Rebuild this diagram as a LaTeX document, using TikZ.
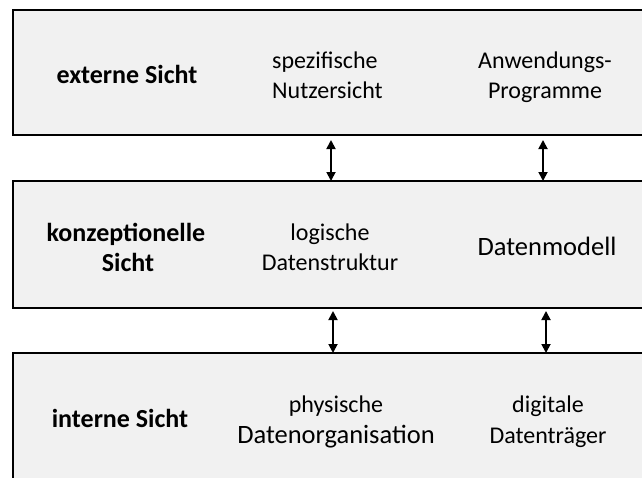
\documentclass[tikz,border=0pt]{standalone}
\usepackage{fontspec}
\setmainfont{Carlito}
\usetikzlibrary{arrows.meta}
\definecolor{layerfill}{HTML}{F1F1F1}
\begin{document}
\begin{tikzpicture}[x=1pt,y=-1pt,
  layer/.style={draw=black, line width=1.8pt, fill=layerfill, rectangle,
    anchor=north west, minimum width=660pt, inner sep=0pt, outer sep=0pt},
  title/.style={font=\fontsize{26}{31}\selectfont\bfseries, anchor=base, inner sep=0pt},
  label/.style={font=\fontsize{24}{29}\selectfont, anchor=base, inner sep=0pt},
  biglabel/.style={font=\fontsize{26.5}{31}\selectfont, anchor=base, inner sep=0pt},
  link/.style={line width=1.8pt, {Triangle[length=9pt,width=9pt]}-{Triangle[length=9pt,width=9pt]}}]
\useasboundingbox (0,0) rectangle (642,477);
\clip (0,0) rectangle (642,477);

% the three layers
\node[layer, minimum height=125pt] (ext) at (13,10) {};
\node[layer, minimum height=127pt] (kon) at (13,181) {};
\node[layer, minimum height=160pt] (int) at (13,353) {};

% external view
\node[title] (extT) at (127,83) {externe Sicht};
\node[label, anchor=base west] (extA1) at (272,68) {spezifische};
\node[label, anchor=base west] (extA2) at (272,98) {Nutzersicht};
\node[label] (extB1) at (545,68) {Anwendungs-};
\node[label] (extB2) at (545,98) {Programme};

% conceptual view
\node[title] (konT1) at (126,241) {konzeptionelle};
\node[title] (konT2) at (128,271) {Sicht};
\node[label] (konA1) at (330,240) {logische};
\node[label] (konA2) at (330,270) {Datenstruktur};
\node[biglabel] (konB) at (547,255) {Datenmodell};

% internal view
\node[title] (intT) at (120,427) {interne Sicht};
\node[label] (intA1) at (336,412) {physische};
\node[biglabel] (intA2) at (336,443) {Datenorganisation};
\node[label] (intB1) at (548,412) {digitale};
\node[label] (intB2) at (548,443) {Datenträger};

% connector end points
\coordinate (u1a) at (331,140);
\coordinate (u1b) at (331,181);
\coordinate (u2a) at (543,140);
\coordinate (u2b) at (543,181);
\coordinate (l1a) at (333,311);
\coordinate (l1b) at (333,353);
\coordinate (l2a) at (546,311);
\coordinate (l2b) at (546,353);

\draw[link] (u1a) -- (u1b);
\draw[link] (u2a) -- (u2b);
\draw[link] (l1a) -- (l1b);
\draw[link] (l2a) -- (l2b);
\end{tikzpicture}
\end{document}
